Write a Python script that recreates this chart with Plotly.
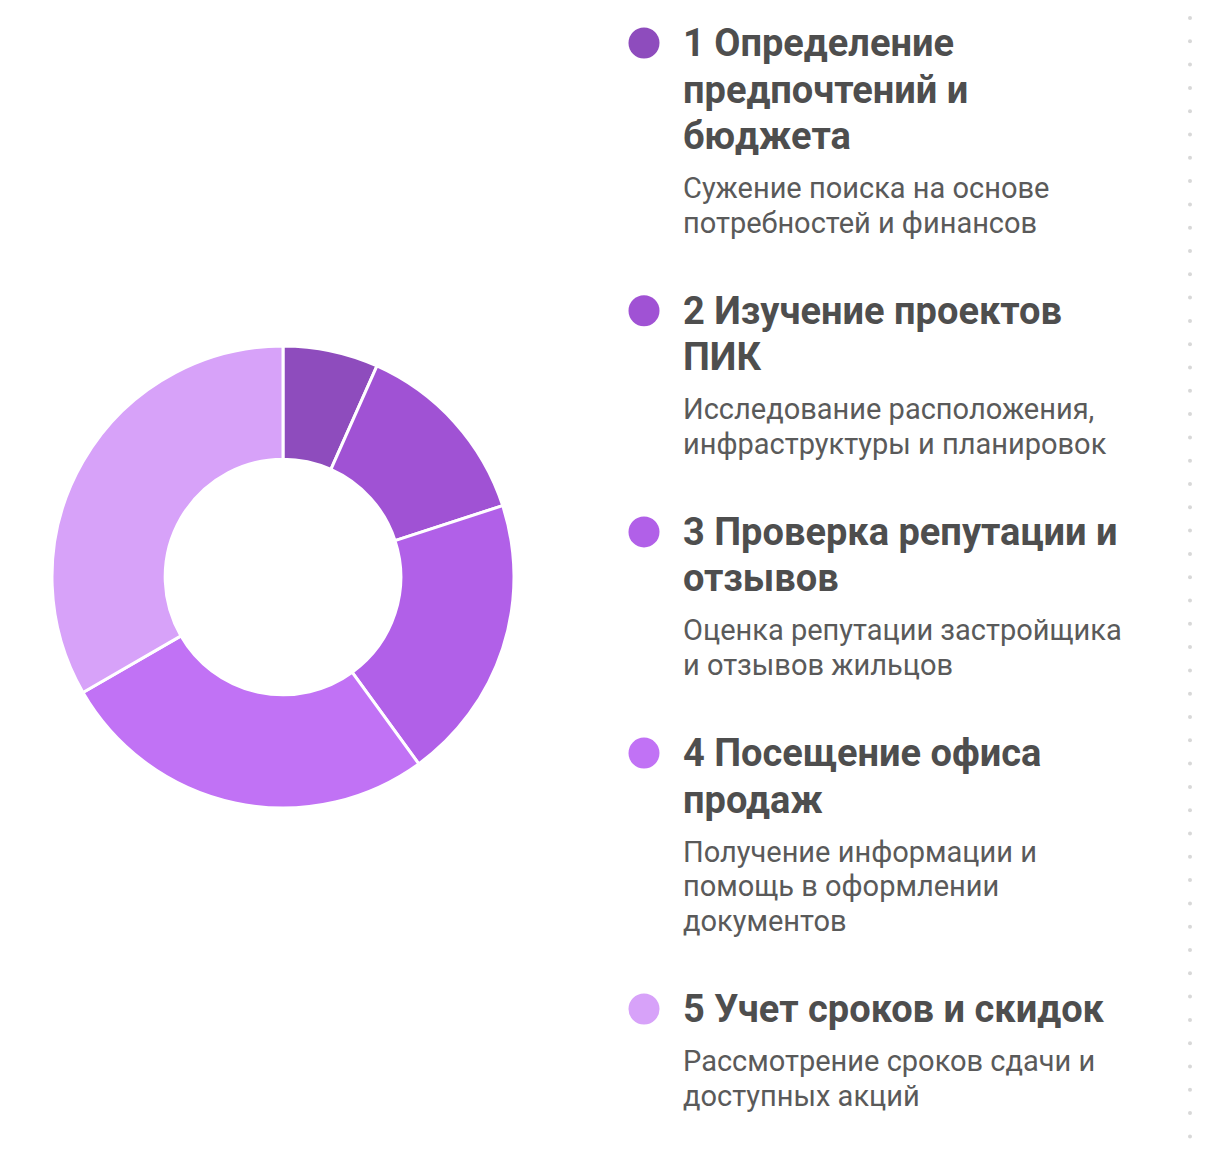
import plotly.graph_objects as go

steps = [
    "1 Определение предпочтений и бюджета",
    "2 Изучение проектов ПИК",
    "3 Проверка репутации и отзывов",
    "4 Посещение офиса продаж",
    "5 Учет сроков и скидок",
]
values = [1, 2, 3, 4, 5]
colors = ["#8e4cbd", "#a052d4", "#b160e8", "#c172f5", "#d7a2f9"]

# legend text, already broken into lines as in the picture
title_lines = [
    ["1 Определение", "предпочтений и", "бюджета"],
    ["2 Изучение проектов", "ПИК"],
    ["3 Проверка репутации и", "отзывов"],
    ["4 Посещение офиса", "продаж"],
    ["5 Учет сроков и скидок"],
]
desc_lines = [
    ["Сужение поиска на основе", "потребностей и финансов"],
    ["Исследование расположения,", "инфраструктуры и планировок"],
    ["Оценка репутации застройщика", "и отзывов жильцов"],
    ["Получение информации и", "помощь в оформлении", "документов"],
    ["Рассмотрение сроков сдачи и", "доступных акций"],
]

# the page puts the plot 8px in from the top-left corner, so the figure is
# made 8px smaller each way to fit the 1206x1150 window without scrollbars
off = 8
W, H = 1206 - off, 1150 - off
cx, cy, r = 283 - off, 577 - off, 231

fig = go.Figure()

fig.add_trace(go.Pie(
    labels=steps,
    values=values,
    sort=False,
    direction="clockwise",
    rotation=0,
    hole=0.51,
    textinfo="none",
    hoverinfo="label+percent",
    marker=dict(colors=colors, line=dict(color="white", width=3)),
    domain=dict(x=[(cx - r) / W, (cx + r) / W],
                y=[(H - cy - r) / H, (H - cy + r) / H]),
    showlegend=False,
))

# custom legend on the right
title_step = 46.5
desc_step = 34.7
gap_title_desc = 52
gap_block = 88
y = 43 - off
marker_y = []
annotations = []
for t_lines, d_lines in zip(title_lines, desc_lines):
    marker_y.append(y)
    for i, line in enumerate(t_lines):
        annotations.append(dict(
            x=681 - off, y=y + i * title_step, xref="x", yref="y",
            text="<b>" + line + "</b>", showarrow=False,
            xanchor="left", yanchor="middle",
            font=dict(family="Roboto", size=38, color="#4e4e4e"),
        ))
    y += (len(t_lines) - 1) * title_step + gap_title_desc
    for i, line in enumerate(d_lines):
        annotations.append(dict(
            x=681 - off, y=y + i * desc_step, xref="x", yref="y",
            text=line, showarrow=False,
            xanchor="left", yanchor="middle",
            font=dict(family="Roboto", size=29, color="#5a5a5a"),
        ))
    y += (len(d_lines) - 1) * desc_step + gap_block

fig.add_trace(go.Scatter(
    x=[644 - off] * len(steps), y=marker_y, mode="markers",
    marker=dict(size=31, color=colors, line=dict(width=0)),
    hoverinfo="skip", showlegend=False,
))

# faint dotted divider near the right edge (decoration)
dot_y = [18 - off + k * 23.3 for k in range(49)]
fig.add_trace(go.Scatter(
    x=[1190 - off] * len(dot_y), y=dot_y, mode="markers",
    marker=dict(size=4, color="#d8d8d8", line=dict(width=0)),
    hoverinfo="skip", showlegend=False, cliponaxis=False,
))

fig.update_layout(
    width=W, height=H,
    margin=dict(l=0, r=0, t=0, b=0),
    paper_bgcolor="white",
    plot_bgcolor="rgba(0,0,0,0)",
    xaxis=dict(range=[0, W], visible=False, fixedrange=True),
    yaxis=dict(range=[H, 0], visible=False, fixedrange=True),
    annotations=annotations,
)

fig.write_html("out.html")
